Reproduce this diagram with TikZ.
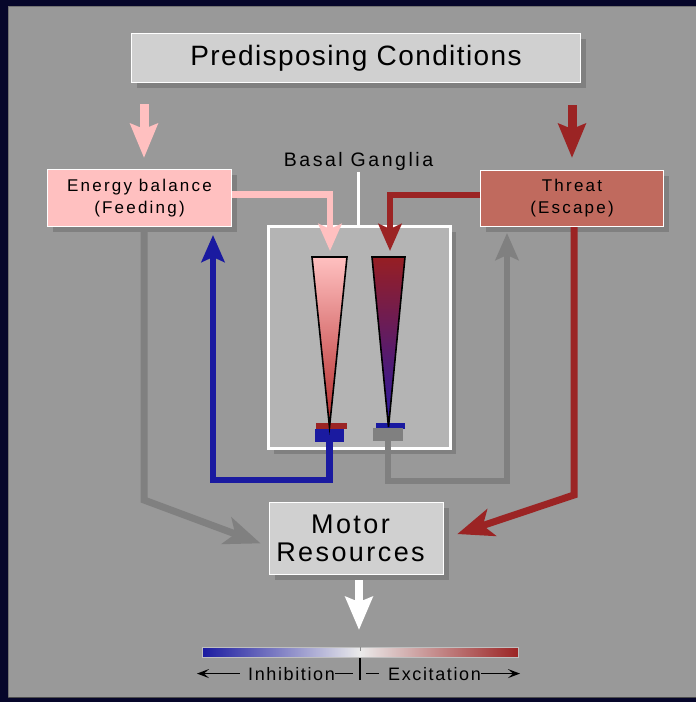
\documentclass[tikz,border=0pt]{standalone}
\usepackage{fontspec}
\setmainfont{Liberation Sans}
\usetikzlibrary{positioning,arrows.meta,shadows}

\definecolor{navy}{RGB}{6,6,42}
\definecolor{panel}{RGB}{153,153,153}
\definecolor{boxgray}{RGB}{208,208,208}
\definecolor{shadowgray}{RGB}{128,128,128}
\definecolor{feedpink}{RGB}{255,192,192}
\definecolor{threatred}{RGB}{192,106,94}
\definecolor{darkred}{RGB}{155,36,36}
\definecolor{inhblue}{RGB}{26,26,160}
\definecolor{bgfill}{RGB}{180,180,180}

\tikzset{
  shadowed/.style={drop shadow={shadow xshift=5pt,shadow yshift=-5pt,fill=shadowgray,opacity=1}},
  box/.style={draw=white, line width=1pt, inner sep=0pt, align=center, shadowed},
  boxtext/.style={font=\fontsize{17}{22}\selectfont\addfontfeatures{LetterSpace=13}},
  bigarrow/.style={line width=9pt, -{Stealth[length=34pt,width=27pt,inset=5pt]}},
  flow/.style={line width=6.5pt, line join=miter, -{Stealth[length=27pt,width=23pt,inset=5pt]}},
  slant/.style={line width=7pt, line join=miter, -{Stealth[length=36pt,width=28pt,inset=9pt]}},
  block/.style={inner sep=0pt, minimum width=#1, minimum height=13pt},
  legendtext/.style={inner sep=0pt, font=\fontsize{18}{20}\selectfont\addfontfeatures{LetterSpace=9}},
  legendarrow/.style={line width=1.3pt, -{Stealth[length=12pt,width=9pt,inset=5pt]}}
}

\begin{document}
\begin{tikzpicture}[x=1pt,y=-1pt]
  % backdrop
  \fill[navy] (0,0) rectangle (696,702);
  \fill[panel] (8,6) rectangle (696,698);
  \draw[black!55, line width=1pt] (8.5,698) -- (8.5,6.5) -- (696,6.5);
  \draw[black!70, line width=1pt] (8,697.5) -- (696,697.5);
  \useasboundingbox (0,0) rectangle (696,702);

  % boxes
  \node[box, fill=boxgray, minimum width=449pt, minimum height=49pt,
        font=\fontsize{28}{32}\selectfont\addfontfeatures{LetterSpace=5}] (pred) at (356,58) {Predisposing Conditions};
  \node[box, boxtext, fill=feedpink, minimum width=184pt, minimum height=57pt] (energy) at (139.5,198) {Energy balance\\(Feeding)};
  \node[box, boxtext, fill=threatred, minimum width=183pt, minimum height=56pt] (threat) at (572,198.5) {Threat\\(Escape)};
  \node[box, fill=bgfill, line width=2.5pt, minimum width=182pt, minimum height=222pt] (bgbox) at (359.5,337.5) {};
  \node[box, fill=boxgray, minimum width=174pt, minimum height=72pt] (motor) at (356.5,538.5) {};
  \node[align=center, inner sep=0pt, font=\fontsize{27}{28}\selectfont\addfontfeatures{LetterSpace=9}] (motortext)
        at ([xshift=-6pt]motor.center) {Motor\\Resources};
  \node[anchor=base, inner sep=0pt, font=\fontsize{19.5}{23}\selectfont\addfontfeatures{LetterSpace=13}] (bglabel) at (358.5,166.7) {Basal Ganglia};
  \draw[white, line width=2.5pt] (bglabel.south) ++(0,1) -- (bglabel.south |- bgbox.north);

  % output bars under the two channels
  \node[fill=darkred, inner sep=0pt, minimum width=31pt, minimum height=6pt] (lbar) at (331,426) {};
  \node[fill=inhblue, block=29pt] (lblock) at (329.5,435.5) {};
  \node[fill=inhblue, inner sep=0pt, minimum width=29pt, minimum height=6pt] (rbar) at (390.5,426) {};
  \node[fill=shadowgray, block=30pt] (rblock) at (388,434.5) {};

  % the two channels
  \shadedraw[top color=feedpink, bottom color={rgb,255:red,180;green,40;blue,40}, draw=black, line width=1.6pt]
    (312,257) -- (347,257) -- (329.5,427) -- cycle;
  \shadedraw[top color={rgb,255:red,150;green,30;blue,35}, bottom color={rgb,255:red,40;green,25;blue,165}, draw=black, line width=1.6pt]
    (372,257) -- (405,257) -- (388.5,427) -- cycle;
  \coordinate (ltop) at (330,257);
  \coordinate (rtop) at (390,257);

  % inputs from predisposing conditions
  \coordinate (feedin) at ([xshift=4.5pt]energy.north);
  \draw[bigarrow, feedpink, shorten <=21pt, shorten >=11pt] (feedin |- pred.south) -- (feedin);
  \draw[bigarrow, darkred, shorten <=22pt, shorten >=12pt] (threat.north |- pred.south) -- (threat.north);

  % into the basal ganglia
  \draw[flow, feedpink, shorten >=6pt] ([yshift=3.5pt]energy.east) -| (ltop);
  \draw[flow, darkred, shorten >=6pt] ([yshift=3.5pt]threat.west) -| (rtop);

  % back out of the basal ganglia
  \draw[flow, inhblue, shorten >=8pt] (lblock.south) -- ++(0,38) -| ([xshift=73.5pt]energy.south);
  \draw[flow, shadowgray, shorten >=6pt] (rblock.south) -- ++(0,40) -| ([xshift=-65pt]threat.south);

  % onto the motor resources
  \draw[slant, shadowgray, shorten >=9pt] ([xshift=4.5pt]energy.south) -- ++(0,273) -- ([yshift=-8pt]motor.west);
  \draw[slant, darkred, shorten >=14pt] ([xshift=2pt]threat.south) -- ++(0,268) -- (motor.east);
  \draw[line width=8pt, white, shorten <=5pt, -{Stealth[length=33pt,width=27pt,inset=5pt]}] ([xshift=2.5pt]motor.south) -- ++(0,55);

  % colour key
  \shade[left color=inhblue, right color=darkred, middle color=white!92!black] (202,647) rectangle (518,657);
  \draw[black!25, line width=1pt] (202,647) rectangle (518,657);
  \draw[black!45, line width=1pt] (360,647) -- (360,651);
  \node[legendtext, anchor=base] (inh) at (291.5,680) {Inhibition};
  \node[legendtext, anchor=base] (exc) at (434.5,680) {Excitation};
  \draw[line width=1.3pt] (360,658) -- (360,680);
  \draw[legendarrow] ([xshift=-8pt]inh.west) -- ++(-43,0);
  \draw[line width=1.3pt] (inh.east) -- ++(18,0);
  \draw[line width=1.3pt] ([xshift=-9pt]exc.west) -- ++(-13,0);
  \draw[legendarrow] (exc.east) -- ++(39,0);
\end{tikzpicture}
\end{document}
